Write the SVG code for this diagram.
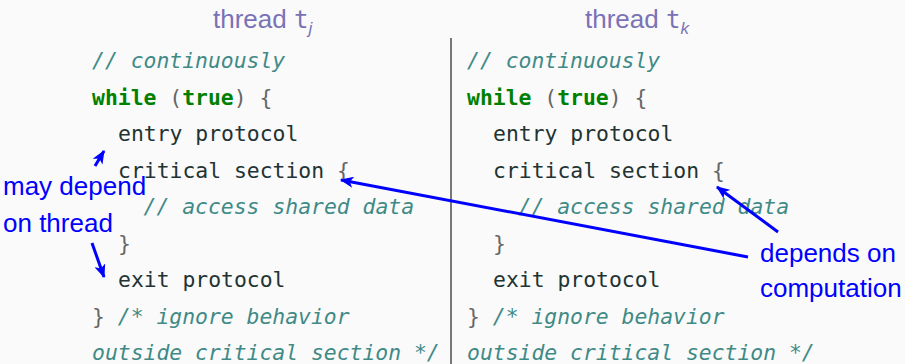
<svg xmlns="http://www.w3.org/2000/svg" width="905" height="364" viewBox="0 0 905 364">
<style>
.code{font-family:"DejaVu Sans Mono",monospace;font-size:21.4px;fill:#223333;}
.cm{fill:#3f8a86;font-style:italic;}
.kw{fill:#008000;font-weight:bold;}
.p{fill:#666666;}
.title{font-family:"Liberation Sans",Arial,sans-serif;font-size:26px;fill:#7a72b6;}
.ann{font-family:"Liberation Sans",Arial,sans-serif;font-size:26px;fill:#0000ff;}
.arr{stroke:#0000ff;stroke-width:3;fill:none;marker-end:url(#ah);}
</style>
<defs>
<marker id="ah" viewBox="0 0 12 10" refX="11" refY="5" markerWidth="4.5" markerHeight="3.8" orient="auto" markerUnits="strokeWidth">
<path d="M0,0 L12,5 L0,10 L3,5 Z" fill="#0000ff"/>
</marker>
</defs>
<rect width="905" height="364" fill="#fafafa"/>
<g id="divider"><line x1="451" y1="38" x2="451" y2="364" stroke="#777777" stroke-width="2"/></g>
<g id="title-j"><text class="title" x="213" y="28">thread <tspan font-family="DejaVu Sans Mono,monospace" font-size="24">t</tspan><tspan font-style="italic" font-size="17" dy="6">j</tspan></text></g>
<g id="title-k"><text class="title" x="585" y="28">thread <tspan font-family="DejaVu Sans Mono,monospace" font-size="24">t</tspan><tspan font-style="italic" font-size="17" dy="6">k</tspan></text></g>
<g id="thread-j" class="code">
<text class="code" x="92" y="68"><tspan class="cm">// continuously</tspan></text>
<text class="code" x="92" y="104.5"><tspan class="kw">while</tspan> <tspan class="p">(</tspan><tspan class="kw">true</tspan><tspan class="p">) {</tspan></text>
<text class="code" x="118" y="141">entry protocol</text>
<text class="code" x="118" y="177.5">critical section <tspan class="p">{</tspan></text>
<text class="code" x="143.6" y="214"><tspan class="cm">// access shared data</tspan></text>
<text class="code" x="118" y="250.5"><tspan class="p">}</tspan></text>
<text class="code" x="118" y="287">exit protocol</text>
<text class="code" x="92" y="323.5"><tspan class="p">}</tspan> <tspan class="cm">/* ignore behavior</tspan></text>
<text class="code" x="92" y="360"><tspan class="cm">outside critical section */</tspan></text>
</g>
<g id="thread-k" class="code">
<text class="code" x="467" y="68"><tspan class="cm">// continuously</tspan></text>
<text class="code" x="467" y="104.5"><tspan class="kw">while</tspan> <tspan class="p">(</tspan><tspan class="kw">true</tspan><tspan class="p">) {</tspan></text>
<text class="code" x="493" y="141">entry protocol</text>
<text class="code" x="493" y="177.5">critical section <tspan class="p">{</tspan></text>
<text class="code" x="518.6" y="214"><tspan class="cm">// access shared data</tspan></text>
<text class="code" x="493" y="250.5"><tspan class="p">}</tspan></text>
<text class="code" x="493" y="287">exit protocol</text>
<text class="code" x="467" y="323.5"><tspan class="p">}</tspan> <tspan class="cm">/* ignore behavior</tspan></text>
<text class="code" x="467" y="360"><tspan class="cm">outside critical section */</tspan></text>
</g>
<g id="connectors">
<line class="arr" x1="95" y1="166" x2="104" y2="151"/>
<line class="arr" x1="92" y1="243" x2="104" y2="277"/>
<line class="arr" x1="748" y1="257" x2="341" y2="180"/>
<line class="arr" x1="778" y1="232" x2="717" y2="187"/>
</g>
<g id="note-may-depend">
<text class="ann" x="3" y="195">may depend</text>
<text class="ann" x="3" y="232">on thread</text>
</g>
<g id="note-depends-on">
<text class="ann" x="760" y="262">depends on</text>
<text class="ann" x="760" y="297">computation</text>
</g>
</svg>
